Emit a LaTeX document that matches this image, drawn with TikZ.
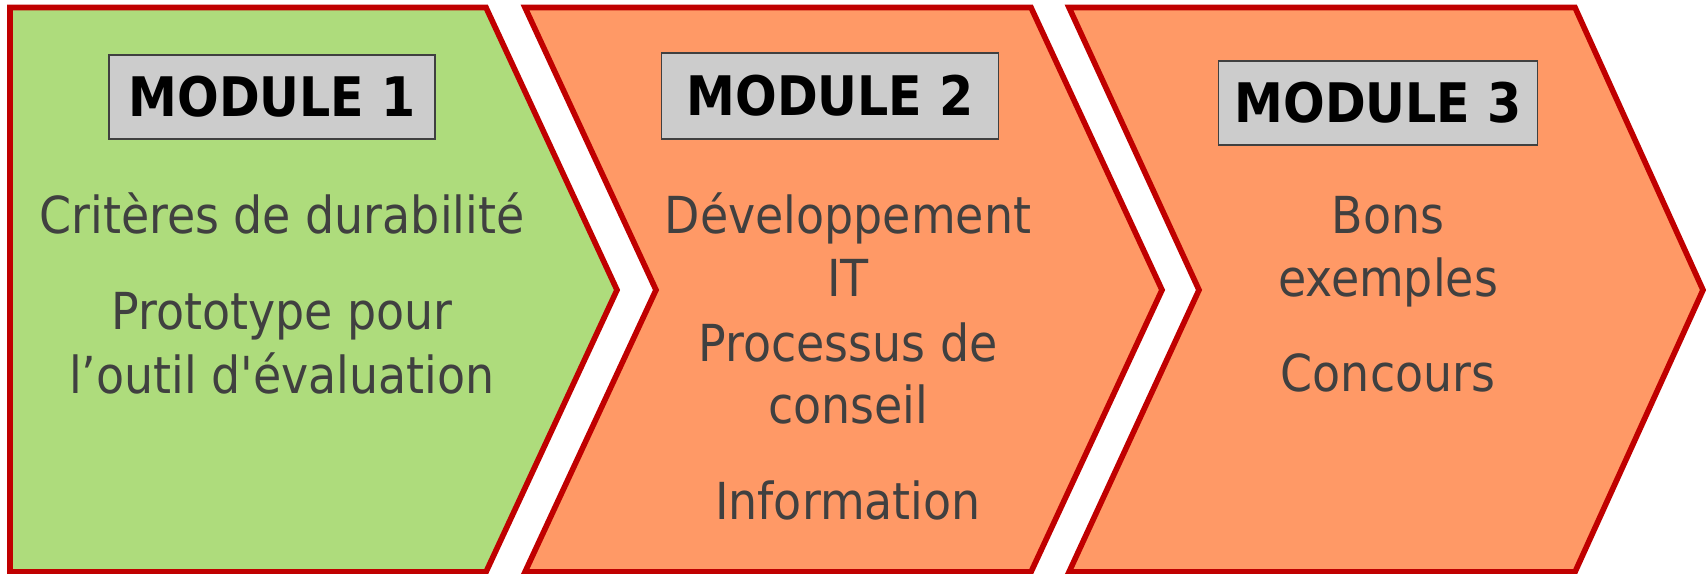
\documentclass[tikz,border=0pt]{standalone}
\usepackage{fontspec}
\setmainfont{DejaVu Sans Condensed}
\usetikzlibrary{positioning}
\definecolor{modgreen}{RGB}{174,220,124}
\definecolor{modorange}{RGB}{255,153,102}
\definecolor{modred}{RGB}{192,0,0}
\definecolor{modgray}{RGB}{204,204,204}
\definecolor{modtext}{RGB}{64,64,64}

\begin{document}
\begin{tikzpicture}[x=0.01cm, y=-0.01cm,
  chevron/.style={draw=modred, line width=1.6pt, line join=miter},
  modbox/.style={draw=black!75, line width=0.4pt, fill=modgray, inner sep=0pt, font=\fontsize{15.5}{18}\selectfont\bfseries},
  itemtxt/.style={text=modtext, anchor=base, inner sep=0pt, font=\fontsize{14.5}{17}\selectfont}]
\useasboundingbox (0,0) rectangle (1706,574);
% the three steps
\draw[chevron, fill=modgreen] (10,7.5) -- (486,7.5) -- (617,290) -- (486,572) -- (10,572) -- cycle;
\draw[chevron, fill=modorange] (525,7.5) -- (1031,7.5) -- (1162,290) -- (1031,572) -- (525,572) -- (656,290) -- cycle;
\draw[chevron, fill=modorange] (1069,7.5) -- (1575,7.5) -- (1703,290) -- (1575,572) -- (1069,572) -- (1199,290) -- cycle;
% headings
\node (m1) [modbox, minimum width=3.26cm, minimum height=0.84cm] at (272,97) {MODULE 1};
\node (m2) [modbox, minimum width=3.37cm, minimum height=0.86cm] at (830,96) {MODULE 2};
\node (m3) [modbox, minimum width=3.19cm, minimum height=0.84cm] at (1378,103) {MODULE 3};
% module 1
\node (crit) [itemtxt] at (282,234) {Critères de durabilité};
\node (proto) [itemtxt] at (282,330) {Prototype pour};
\node (outil) [itemtxt] at (282,394) {l’outil d\textquotesingle évaluation};
% module 2
\node (dev) [itemtxt] at (848,234) {Développement};
\node (it) [itemtxt] at (848,297) {IT};
\node (proc) [itemtxt] at (848,362) {Processus de};
\node (cons) [itemtxt] at (848,424) {conseil};
\node (info) [itemtxt] at (848,520) {Information};
% module 3
\node (bons) [itemtxt] at (1388,234) {Bons};
\node (exem) [itemtxt] at (1388,297) {exemples};
\node (conc) [itemtxt] at (1388,392) {Concours};
\end{tikzpicture}
\end{document}
